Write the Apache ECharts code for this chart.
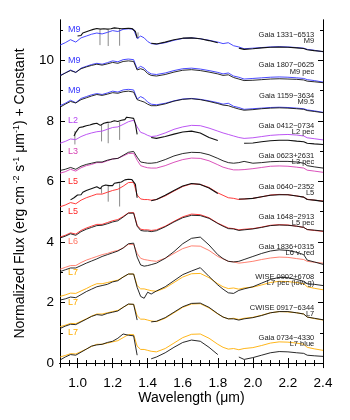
<!DOCTYPE html>
<html>
<head>
<meta charset="utf-8">
<script src="https://cdn.jsdelivr.net/npm/echarts@6.0.0/dist/echarts.min.js"></script>
<style>
  html, body { margin: 0; padding: 0; background: #fff; }
  #chart { width: 350px; height: 420px; }
</style>
</head>
<body>
<div id="chart"></div>
<script>
// wavelength grid (micron)
var wl = [0.90,0.93,0.96,0.99,1.02,1.05,1.08,1.11,1.14,1.17,1.20,1.23,1.26,1.29,1.32,1.34,1.36,1.38,1.40,1.42,
          1.45,1.50,1.55,1.60,1.65,1.70,1.75,1.80,1.83,1.86,1.89,1.92,1.95,2.00,2.05,2.10,2.15,2.20,2.25,2.29,
          2.31,2.35,2.40];
// finer J-band grid for the noisy spectra
var wlJ = [0.97,0.98,0.99,1.00,1.01,1.02,1.03,1.04,1.05,1.06,1.07,1.08,1.09,1.10,1.11,1.12,1.13,1.14,1.15,1.16,
           1.17,1.18,1.19,1.20,1.21,1.22,1.23,1.24,1.25,1.26,1.27,1.28,1.29,1.30,1.31,1.32,1.33,1.34];

// spectral standards (normalized flux)
var tplM9 = [0.50,0.58,0.68,0.60,0.74,0.80,0.86,0.90,0.87,0.92,0.98,0.95,1.02,1.04,1.02,0.72,0.80,0.74,0.62,0.55,
             0.53,0.58,0.66,0.72,0.74,0.71,0.66,0.60,0.55,0.58,0.48,0.44,0.38,0.40,0.42,0.44,0.45,0.44,0.42,0.40,
             0.36,0.33,0.28];
var tplL2 = [0.26,0.32,0.40,0.38,0.48,0.55,0.60,0.64,0.66,0.72,0.78,0.80,0.88,0.97,1.02,0.80,0.62,0.58,0.52,0.48,
             0.50,0.60,0.72,0.80,0.85,0.84,0.76,0.66,0.60,0.55,0.50,0.45,0.42,0.44,0.48,0.52,0.54,0.55,0.53,0.50,
             0.44,0.41,0.37];
var tplL3 = [0.27,0.32,0.40,0.34,0.45,0.52,0.56,0.62,0.62,0.68,0.74,0.76,0.84,0.92,0.93,0.70,0.52,0.48,0.45,0.44,
             0.44,0.52,0.63,0.72,0.77,0.76,0.68,0.55,0.47,0.42,0.38,0.38,0.39,0.42,0.46,0.50,0.51,0.50,0.47,0.44,
             0.37,0.34,0.30];
var tplL5 = [0.16,0.22,0.30,0.26,0.38,0.46,0.52,0.58,0.58,0.64,0.70,0.74,0.84,0.96,0.97,0.55,0.42,0.40,0.40,0.38,
             0.40,0.52,0.68,0.83,0.92,0.90,0.80,0.62,0.54,0.46,0.44,0.40,0.42,0.44,0.49,0.55,0.57,0.56,0.52,0.48,
             0.41,0.38,0.35];
var tplL6 = [0.10,0.16,0.22,0.22,0.32,0.40,0.46,0.52,0.58,0.62,0.68,0.72,0.80,0.92,0.92,0.62,0.46,0.42,0.40,0.38,
             0.36,0.46,0.62,0.78,0.87,0.86,0.72,0.52,0.44,0.36,0.34,0.30,0.32,0.36,0.42,0.47,0.50,0.49,0.45,0.42,
             0.36,0.33,0.30];
var tplL7 = [0.20,0.25,0.31,0.30,0.38,0.46,0.55,0.62,0.62,0.66,0.70,0.74,0.84,0.94,0.94,0.56,0.45,0.45,0.42,0.39,
             0.37,0.48,0.66,0.84,0.95,0.96,0.82,0.62,0.52,0.46,0.48,0.44,0.48,0.51,0.58,0.66,0.70,0.69,0.66,0.62,
             0.52,0.47,0.42];

// observed spectra (normalized flux, null = gap)
var g1331 = [null,null,null,null,0.82,0.88,0.98,1.04,0.96,1.02,1.05,0.98,1.06,1.06,1.05,0.75,null,null,null,0.56,
             0.54,0.60,0.68,0.73,0.74,0.71,0.65,0.58,null,null,null,0.40,0.36,0.38,0.41,0.43,0.44,0.43,0.41,0.39,
             0.35,0.32,0.29];
var g1807 = [0.48,0.58,0.66,0.60,0.72,0.78,0.83,0.87,0.84,0.88,0.93,0.90,0.96,0.98,0.96,0.68,0.72,0.68,0.56,0.50,
             0.48,0.53,0.61,0.67,0.69,0.66,0.61,0.55,0.50,0.52,0.43,0.38,0.33,0.34,0.36,0.38,0.39,0.38,0.37,0.35,
             0.31,0.29,0.26];
var g1159 = [0.45,0.55,0.64,0.59,0.70,0.76,0.82,0.87,0.84,0.88,0.93,0.91,0.96,0.98,0.95,0.70,0.66,0.62,0.55,0.50,
             0.50,0.56,0.65,0.71,0.73,0.70,0.64,0.57,0.52,0.50,0.44,0.39,0.35,0.37,0.40,0.42,0.43,0.42,0.40,0.38,
             0.34,0.31,0.27];
var g0412 = [null,null,null,0.55,0.74,0.80,0.84,0.88,0.86,0.92,0.96,0.95,1.05,1.10,1.06,0.56,null,null,null,0.45,
             0.42,0.48,0.56,0.63,0.66,0.60,0.45,0.35,null,null,null,null,0.26,0.27,0.31,0.34,0.36,0.36,0.33,0.31,
             0.26,0.24,0.22];
var g0623 = [0.36,0.40,0.46,0.40,0.50,0.56,0.60,0.64,0.64,0.70,0.74,0.76,0.86,0.96,0.99,0.80,0.64,0.62,0.60,0.60,
             0.62,0.72,0.84,0.92,0.96,0.95,0.88,0.76,0.68,0.62,0.60,0.62,0.66,0.60,0.62,0.65,0.66,0.66,0.64,0.60,
             0.52,0.48,0.44];
var g0640 = [null,null,0.39,0.40,0.55,0.62,0.68,0.76,0.78,0.82,0.90,0.92,0.98,1.05,1.04,0.48,null,null,null,0.36,
             0.40,0.54,0.70,0.85,0.93,0.90,0.78,0.60,null,null,null,0.42,0.42,0.44,0.49,0.54,0.56,0.56,0.52,0.48,
             0.40,0.38,0.34];
var g1648 = [0.13,0.19,0.27,0.22,0.34,0.42,0.48,0.54,0.55,0.60,0.66,0.70,0.82,0.95,0.95,0.52,0.38,0.36,0.36,0.34,
             0.37,0.50,0.66,0.80,0.88,0.87,0.78,0.61,0.52,0.44,0.43,0.38,0.40,0.43,0.48,0.54,0.56,0.55,0.52,0.48,
             0.41,0.39,0.36];
var g1836 = [0.02,0.08,0.14,0.14,0.22,0.30,0.37,0.44,0.52,0.58,0.64,0.70,0.80,0.94,0.96,0.50,0.24,0.20,0.22,0.25,
             0.30,0.46,0.68,0.94,1.12,1.16,0.90,0.58,0.45,0.36,0.34,0.36,0.42,0.52,0.62,0.70,0.74,0.72,0.66,0.58,
             0.40,0.34,0.26];
var w0902 = [0.08,0.12,0.18,0.16,0.26,0.36,0.44,0.52,0.56,0.60,0.68,0.72,0.84,0.94,0.94,0.50,0.20,0.14,0.34,0.28,
             0.38,0.52,0.72,0.92,1.04,1.15,0.86,0.58,0.44,0.32,0.30,0.40,0.45,0.52,0.64,0.76,0.83,0.82,0.76,0.70,
             0.62,0.60,0.56];
var c0917 = [0.14,0.22,0.28,0.27,0.36,0.45,0.54,0.60,0.58,0.64,0.68,0.72,0.84,0.95,0.94,0.42,null,null,null,0.36,
             0.38,0.50,0.68,0.86,0.97,0.98,0.84,0.63,0.52,0.46,0.46,0.42,0.46,0.50,0.57,0.66,0.70,0.70,0.66,0.62,
             0.52,0.48,0.43];
var g0734 = [0.10,0.20,0.28,0.26,0.36,0.46,0.56,0.60,0.62,0.68,0.72,0.82,0.96,0.92,0.90,0.26,null,null,null,0.14,
             0.20,0.34,0.52,0.68,0.76,0.72,0.52,0.28,null,null,null,0.20,0.12,0.18,0.26,0.34,0.38,0.37,0.34,0.32,
             0.26,0.24,0.22];

// noisy J-band pieces (on wlJ)
var g1331J = [null,null,null,0.80,0.86,0.82,0.90,0.86,0.94,0.88,0.98,0.95,1.02,0.98,1.05,1.00,1.03,1.00,1.04,0.99,
              1.03,0.98,1.04,1.02,1.07,1.03,1.06,1.01,1.04,1.08,1.05,1.09,1.06,1.08,1.05,1.07,0.95,0.74];
var g0412J = [null,0.50,0.62,0.70,0.78,0.72,0.80,0.76,0.84,0.80,0.86,0.82,0.90,0.86,0.92,0.88,0.85,0.86,0.92,0.88,
              0.95,0.90,0.96,0.92,1.00,0.95,0.98,0.94,1.02,1.08,1.04,1.12,1.08,1.10,1.06,1.08,0.90,0.55];
var g0640J = [0.40,0.46,0.44,0.55,0.60,0.56,0.64,0.62,0.70,0.66,0.74,0.70,0.78,0.74,0.82,0.78,0.76,0.84,0.80,0.88,
              0.84,0.86,0.90,0.86,0.94,0.90,0.96,0.92,0.98,1.00,1.05,1.01,1.07,1.03,1.06,1.04,0.90,0.46];

// telluric residual spikes: wavelength, top and bottom flux
var spikeRows = [0, 3, 5];
var spikeWl = [[1.128, 1.175, 1.24, 1.345], [0.985, 1.137, 1.175, 1.24], [1.137, 1.175, 1.24]];
var spikeTop = [[1.00, 1.02, 1.04, 0.92], [0.66, 0.88, 0.92, 0.96], [0.80, 0.86, 0.94]];
var spikeBot = [[0.50, 0.47, 0.48, 0.70], [0.22, 0.32, 0.26, 0.37], [0.60, 0.33, 0.17]];

var observed = [g1331, g1807, g1159, g0412, g0623, g0640, g1648, g1836, w0902, c0917, g0734];
var observedJ = [g1331J, null, null, g0412J, null, g0640J, null, null, null, null, null];
var templates = [tplM9, tplM9, tplM9, tplL2, tplL3, tplL5, tplL5, tplL6, tplL7, tplL7, tplL7];
var offsets = [10, 9, 8, 7, 6, 5, 4, 3, 2, 1, 0];
var objNames = ['Gaia 1331\u22126513', 'Gaia 1807\u22120625', 'Gaia 1159\u22123634', 'Gaia 0412\u22120734',
                'Gaia 0623+2631', 'Gaia 0640\u22122352', 'Gaia 1648\u22122913', 'Gaia 1836+0315',
                'WISE 0902+6708', 'CWISE 0917\u22126344', 'Gaia 0734\u22124330'];
var objTypes = ['M9', 'M9 pec', 'M9.5', 'L2 pec', 'L3 pec', 'L5', 'L5 pec', 'L6 v. red',
                'L7 pec (low-g)', 'L7', 'L7 blue'];
var stdTypes = ['M9', 'M9', 'M9', 'L2', 'L3', 'L5', 'L5', 'L6', 'L7', 'L7', 'L7'];
var stdColors = { M9: '#3535ff', L2: '#b443f2', L3: '#d63fb3', L5: '#ff2626', L6: '#ff7462', L7: '#ffae00' };

var xTicks = [1.0, 1.2, 1.4, 1.6, 1.8, 2.0, 2.2, 2.4];
var yTicks = [0, 2, 4, 6, 8, 10];

var xMinor = [];
for (var v = 0.9; v < 2.401; v += 0.05) xMinor.push(Math.round(v * 100) / 100);
var yMinor = [1, 3, 5, 7, 9, 11];

var dom = document.getElementById('chart');
var myChart = echarts.init(dom, null, { renderer: 'canvas' });

function toPairs(arr, off) {
  return wl.map(function (w, j) {
    return [w, arr[j] == null ? null : arr[j] + off];
  });
}
// coarse points outside the J window + fine J points
function mergeJ(arr, fine, off) {
  var pts = [];
  wl.forEach(function (w, j) {
    if (w < 0.965 || w > 1.345) pts.push([w, arr[j] == null ? null : arr[j] + off]);
  });
  wlJ.forEach(function (w, j) {
    pts.push([w, fine[j] == null ? null : fine[j] + off]);
  });
  pts.sort(function (a, b) { return a[0] - b[0]; });
  return pts;
}

var series = [];
offsets.forEach(function (off, i) {
  series.push({
    type: 'line', showSymbol: false, silent: true, connectNulls: false,
    data: toPairs(templates[i], off),
    lineStyle: { color: stdColors[stdTypes[i]], width: 0.9 },
    z: 2
  });
  series.push({
    type: 'line', showSymbol: false, silent: true, connectNulls: false,
    data: observedJ[i] ? mergeJ(observed[i], observedJ[i], off) : toPairs(observed[i], off),
    lineStyle: { color: '#111', width: observedJ[i] ? 1.1 : 0.9 },
    z: 3
  });
});

// grey telluric spikes as short vertical segments
spikeRows.forEach(function (row, k) {
  var off = offsets[row];
  var pts = [];
  spikeWl[k].forEach(function (w, m) {
    pts.push([w, spikeTop[k][m] + off], [w, spikeBot[k][m] + off], [w, null]);
  });
  series.push({
    type: 'line', showSymbol: false, silent: true, connectNulls: false,
    data: pts, lineStyle: { color: '#8a8a8a', width: 1 }, z: 1
  });
});

var font = 'Liberation Sans, Arial, sans-serif';

function xAx(pos, ticks, len, showLabel) {
  return {
    type: 'value', position: pos, min: 0.9, max: 2.4,
    axisLine: { show: true, lineStyle: { color: '#000', width: 1 } },
    axisTick: { show: true, inside: true, length: len, customValues: ticks, lineStyle: { color: '#000' } },
    axisLabel: { show: showLabel, customValues: xTicks, margin: 9, fontSize: 13.5, color: '#000', fontFamily: font,
      formatter: function (v) { return v.toFixed(1); } },
    splitLine: { show: false }
  };
}
function yAx(pos, ticks, len, showLabel) {
  return {
    type: 'value', position: pos, min: -0.13, max: 11.33,
    axisLine: { show: true, lineStyle: { color: '#000', width: 1 } },
    axisTick: { show: true, inside: true, length: len, customValues: ticks, lineStyle: { color: '#000' } },
    axisLabel: { show: showLabel, customValues: yTicks, margin: 6, fontSize: 13.5, color: '#000', fontFamily: font },
    splitLine: { show: false }
  };
}

var xAxes = [xAx('bottom', xTicks, 5, true), xAx('bottom', xMinor, 3, false), xAx('top', xTicks, 5, false), xAx('top', xMinor, 3, false)];
xAxes[0].name = 'Wavelength (\u03bcm)';
xAxes[0].nameLocation = 'middle';
xAxes[0].nameGap = 24;
xAxes[0].nameMoveOverlap = false;
xAxes[0].nameTextStyle = { fontSize: 14, color: '#000', fontFamily: font };

var yAxes = [yAx('left', yTicks, 5, true), yAx('left', yMinor, 3, false), yAx('right', yTicks, 5, false), yAx('right', yMinor, 3, false)];
yAxes[0].name = '{t|Normalized Flux (erg cm}{s| -2}{t| s}{s|-1}{t| \u03bcm}{s|-1}{t|) + Constant}';
yAxes[0].nameLocation = 'middle';
yAxes[0].nameGap = 32;
yAxes[0].nameMoveOverlap = false;
yAxes[0].nameTextStyle = {
  color: '#000', fontFamily: font,
  rich: {
    t: { fontSize: 14, fontFamily: font, color: '#000', lineHeight: 16 },
    s: { fontSize: 9, fontFamily: font, color: '#000', lineHeight: 9, verticalAlign: 'top' }
  }
};

var option = {
  animation: false,
  grid: { left: 60, right: 27, top: 20, bottom: 53, containLabel: false },
  xAxis: xAxes,
  yAxis: yAxes,
  series: series
};
myChart.setOption(option);

// spectrum labels, placed in data coordinates
var graphics = [];
offsets.forEach(function (off, i) {
  var pl = myChart.convertToPixel({ gridIndex: 0 }, [0.945, off + 1.0]);
  graphics.push({
    type: 'text', x: pl[0], y: pl[1], silent: true,
    style: { text: stdTypes[i], fill: stdColors[stdTypes[i]], font: '9px ' + font, align: 'left', verticalAlign: 'middle' }
  });
  var p1 = myChart.convertToPixel({ gridIndex: 0 }, [2.35, off + 0.83]);
  var p2 = myChart.convertToPixel({ gridIndex: 0 }, [2.35, off + 0.63]);
  graphics.push({
    type: 'text', x: p1[0], y: p1[1], silent: true, z: 10,
    style: { text: objNames[i], fill: '#222', font: '7.5px ' + font, align: 'right', verticalAlign: 'middle' }
  });
  graphics.push({
    type: 'text', x: p2[0], y: p2[1], silent: true, z: 10,
    style: { text: objTypes[i], fill: '#222', font: '7.5px ' + font, align: 'right', verticalAlign: 'middle' }
  });
});
myChart.setOption({ graphic: graphics });

window.addEventListener('resize', myChart.resize);
</script>
</body>
</html>
